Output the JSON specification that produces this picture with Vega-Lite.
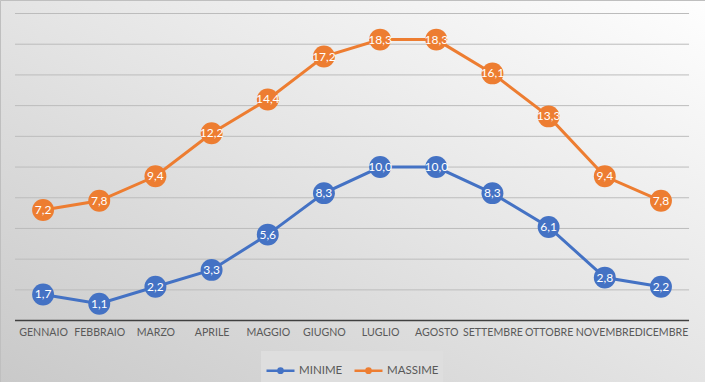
{
  "$schema": "https://vega.github.io/schema/vega-lite/v6.json",
  "width": 705,
  "height": 382,
  "autosize": "none",
  "padding": 0,
  "background": "#d6d6d6",
  "view": {
    "stroke": "#bfbfbf",
    "strokeWidth": 1,
    "fill": {"gradient": "linear", "x1": 1, "y1": 0, "x2": 0, "y2": 1,
      "stops": [{"offset": 0, "color": "#fefefe"}, {"offset": 0.5, "color": "#e4e4e4"}, {"offset": 1, "color": "#c9c9c9"}]}
  },
  "config": {
    "locale": {"number": {"decimal": ",", "thousands": ".", "grouping": [3], "currency": ["", " €"]}},
    "font": "Lato"
  },
  "datasets": {
    "temp": [
      {"mese": "GENNAIO", "n": 0, "serie": "MINIME", "v": 1.7},
      {"mese": "FEBBRAIO", "n": 1, "serie": "MINIME", "v": 1.1},
      {"mese": "MARZO", "n": 2, "serie": "MINIME", "v": 2.2},
      {"mese": "APRILE", "n": 3, "serie": "MINIME", "v": 3.3},
      {"mese": "MAGGIO", "n": 4, "serie": "MINIME", "v": 5.6},
      {"mese": "GIUGNO", "n": 5, "serie": "MINIME", "v": 8.3},
      {"mese": "LUGLIO", "n": 6, "serie": "MINIME", "v": 10.0},
      {"mese": "AGOSTO", "n": 7, "serie": "MINIME", "v": 10.0},
      {"mese": "SETTEMBRE", "n": 8, "serie": "MINIME", "v": 8.3},
      {"mese": "OTTOBRE", "n": 9, "serie": "MINIME", "v": 6.1},
      {"mese": "NOVEMBRE", "n": 10, "serie": "MINIME", "v": 2.8},
      {"mese": "DICEMBRE", "n": 11, "serie": "MINIME", "v": 2.2},
      {"mese": "GENNAIO", "n": 0, "serie": "MASSIME", "v": 7.2},
      {"mese": "FEBBRAIO", "n": 1, "serie": "MASSIME", "v": 7.8},
      {"mese": "MARZO", "n": 2, "serie": "MASSIME", "v": 9.4},
      {"mese": "APRILE", "n": 3, "serie": "MASSIME", "v": 12.2},
      {"mese": "MAGGIO", "n": 4, "serie": "MASSIME", "v": 14.4},
      {"mese": "GIUGNO", "n": 5, "serie": "MASSIME", "v": 17.2},
      {"mese": "LUGLIO", "n": 6, "serie": "MASSIME", "v": 18.3},
      {"mese": "AGOSTO", "n": 7, "serie": "MASSIME", "v": 18.3},
      {"mese": "SETTEMBRE", "n": 8, "serie": "MASSIME", "v": 16.1},
      {"mese": "OTTOBRE", "n": 9, "serie": "MASSIME", "v": 13.3},
      {"mese": "NOVEMBRE", "n": 10, "serie": "MASSIME", "v": 9.4},
      {"mese": "DICEMBRE", "n": 11, "serie": "MASSIME", "v": 7.8}
    ],
    "griglia": [
      {"g": 2}, {"g": 4}, {"g": 6}, {"g": 8}, {"g": 10},
      {"g": 12}, {"g": 14}, {"g": 16}, {"g": 18}, {"g": 20}
    ]
  },
  "layer": [
    {
      "data": {"name": "griglia"},
      "mark": {"type": "rule", "color": "#bcbcbc", "strokeWidth": 1},
      "encoding": {
        "x": {"datum": -0.5, "type": "quantitative",
          "scale": {"domain": [-0.767, 11.784], "nice": false, "zero": false},
          "axis": {"values": [0, 1, 2, 3, 4, 5, 6, 7, 8, 9, 10, 11],
            "labelExpr": "['GENNAIO','FEBBRAIO','MARZO','APRILE','MAGGIO','GIUGNO','LUGLIO','AGOSTO','SETTEMBRE','OTTOBRE','NOVEMBRE','DICEMBRE'][datum.value]",
            "offset": -61.5, "grid": false, "ticks": false, "domain": false,
            "labelPadding": 7, "labelFontSize": 10.6, "labelColor": "#595959",
            "labelFont": "Lato", "title": null, "labelOverlap": false, "labelFlush": false}},
        "x2": {"datum": 11.5},
        "y": {"field": "g", "type": "quantitative",
          "scale": {"domain": [-4.0, 20.88], "nice": false, "zero": false},
          "axis": null}
      }
    },
    {
      "data": {"values": [{"b": 0}]},
      "mark": {"type": "rule", "color": "#404040", "strokeWidth": 1.5},
      "encoding": {
        "x": {"datum": -0.5, "type": "quantitative", "title": null},
        "x2": {"datum": 11.5},
        "y": {"field": "b", "type": "quantitative", "axis": null}
      }
    },
    {
      "data": {"name": "temp"},
      "mark": {"type": "line", "strokeWidth": 3},
      "encoding": {
        "x": {"field": "n", "type": "quantitative", "title": null},
        "y": {"field": "v", "type": "quantitative", "axis": null},
        "color": {"field": "serie", "type": "nominal",
          "scale": {"domain": ["MINIME", "MASSIME"], "range": ["#4472C4", "#ED7D31"]},
          "legend": {"orient": "none", "legendX": 261, "legendY": 351, "direction": "horizontal",
            "title": null, "fillColor": "#dedede", "padding": 4,
            "symbolType": "M-1,0H1M-0.15,0A0.15,0.15 0 1,1 0.15,0A0.15,0.15 0 1,1 -0.15,0Z",
            "symbolSize": 784, "symbolStrokeWidth": 2.5,
            "labelFontSize": 11.5, "labelColor": "#595959", "labelFont": "Lato",
            "columnPadding": 6, "labelOffset": 3}}
      }
    },
    {
      "data": {"name": "temp"},
      "mark": {"type": "circle", "size": 480, "opacity": 1},
      "encoding": {
        "x": {"field": "n", "type": "quantitative", "title": null},
        "y": {"field": "v", "type": "quantitative", "axis": null},
        "color": {"field": "serie", "type": "nominal", "legend": null}
      }
    },
    {
      "data": {"name": "temp"},
      "mark": {"type": "text", "color": "white", "fontSize": 12, "font": "Lato", "baseline": "middle", "align": "center"},
      "encoding": {
        "x": {"field": "n", "type": "quantitative", "title": null},
        "y": {"field": "v", "type": "quantitative", "axis": null},
        "text": {"field": "v", "type": "quantitative", "format": ".1f"}
      }
    }
  ]
}
